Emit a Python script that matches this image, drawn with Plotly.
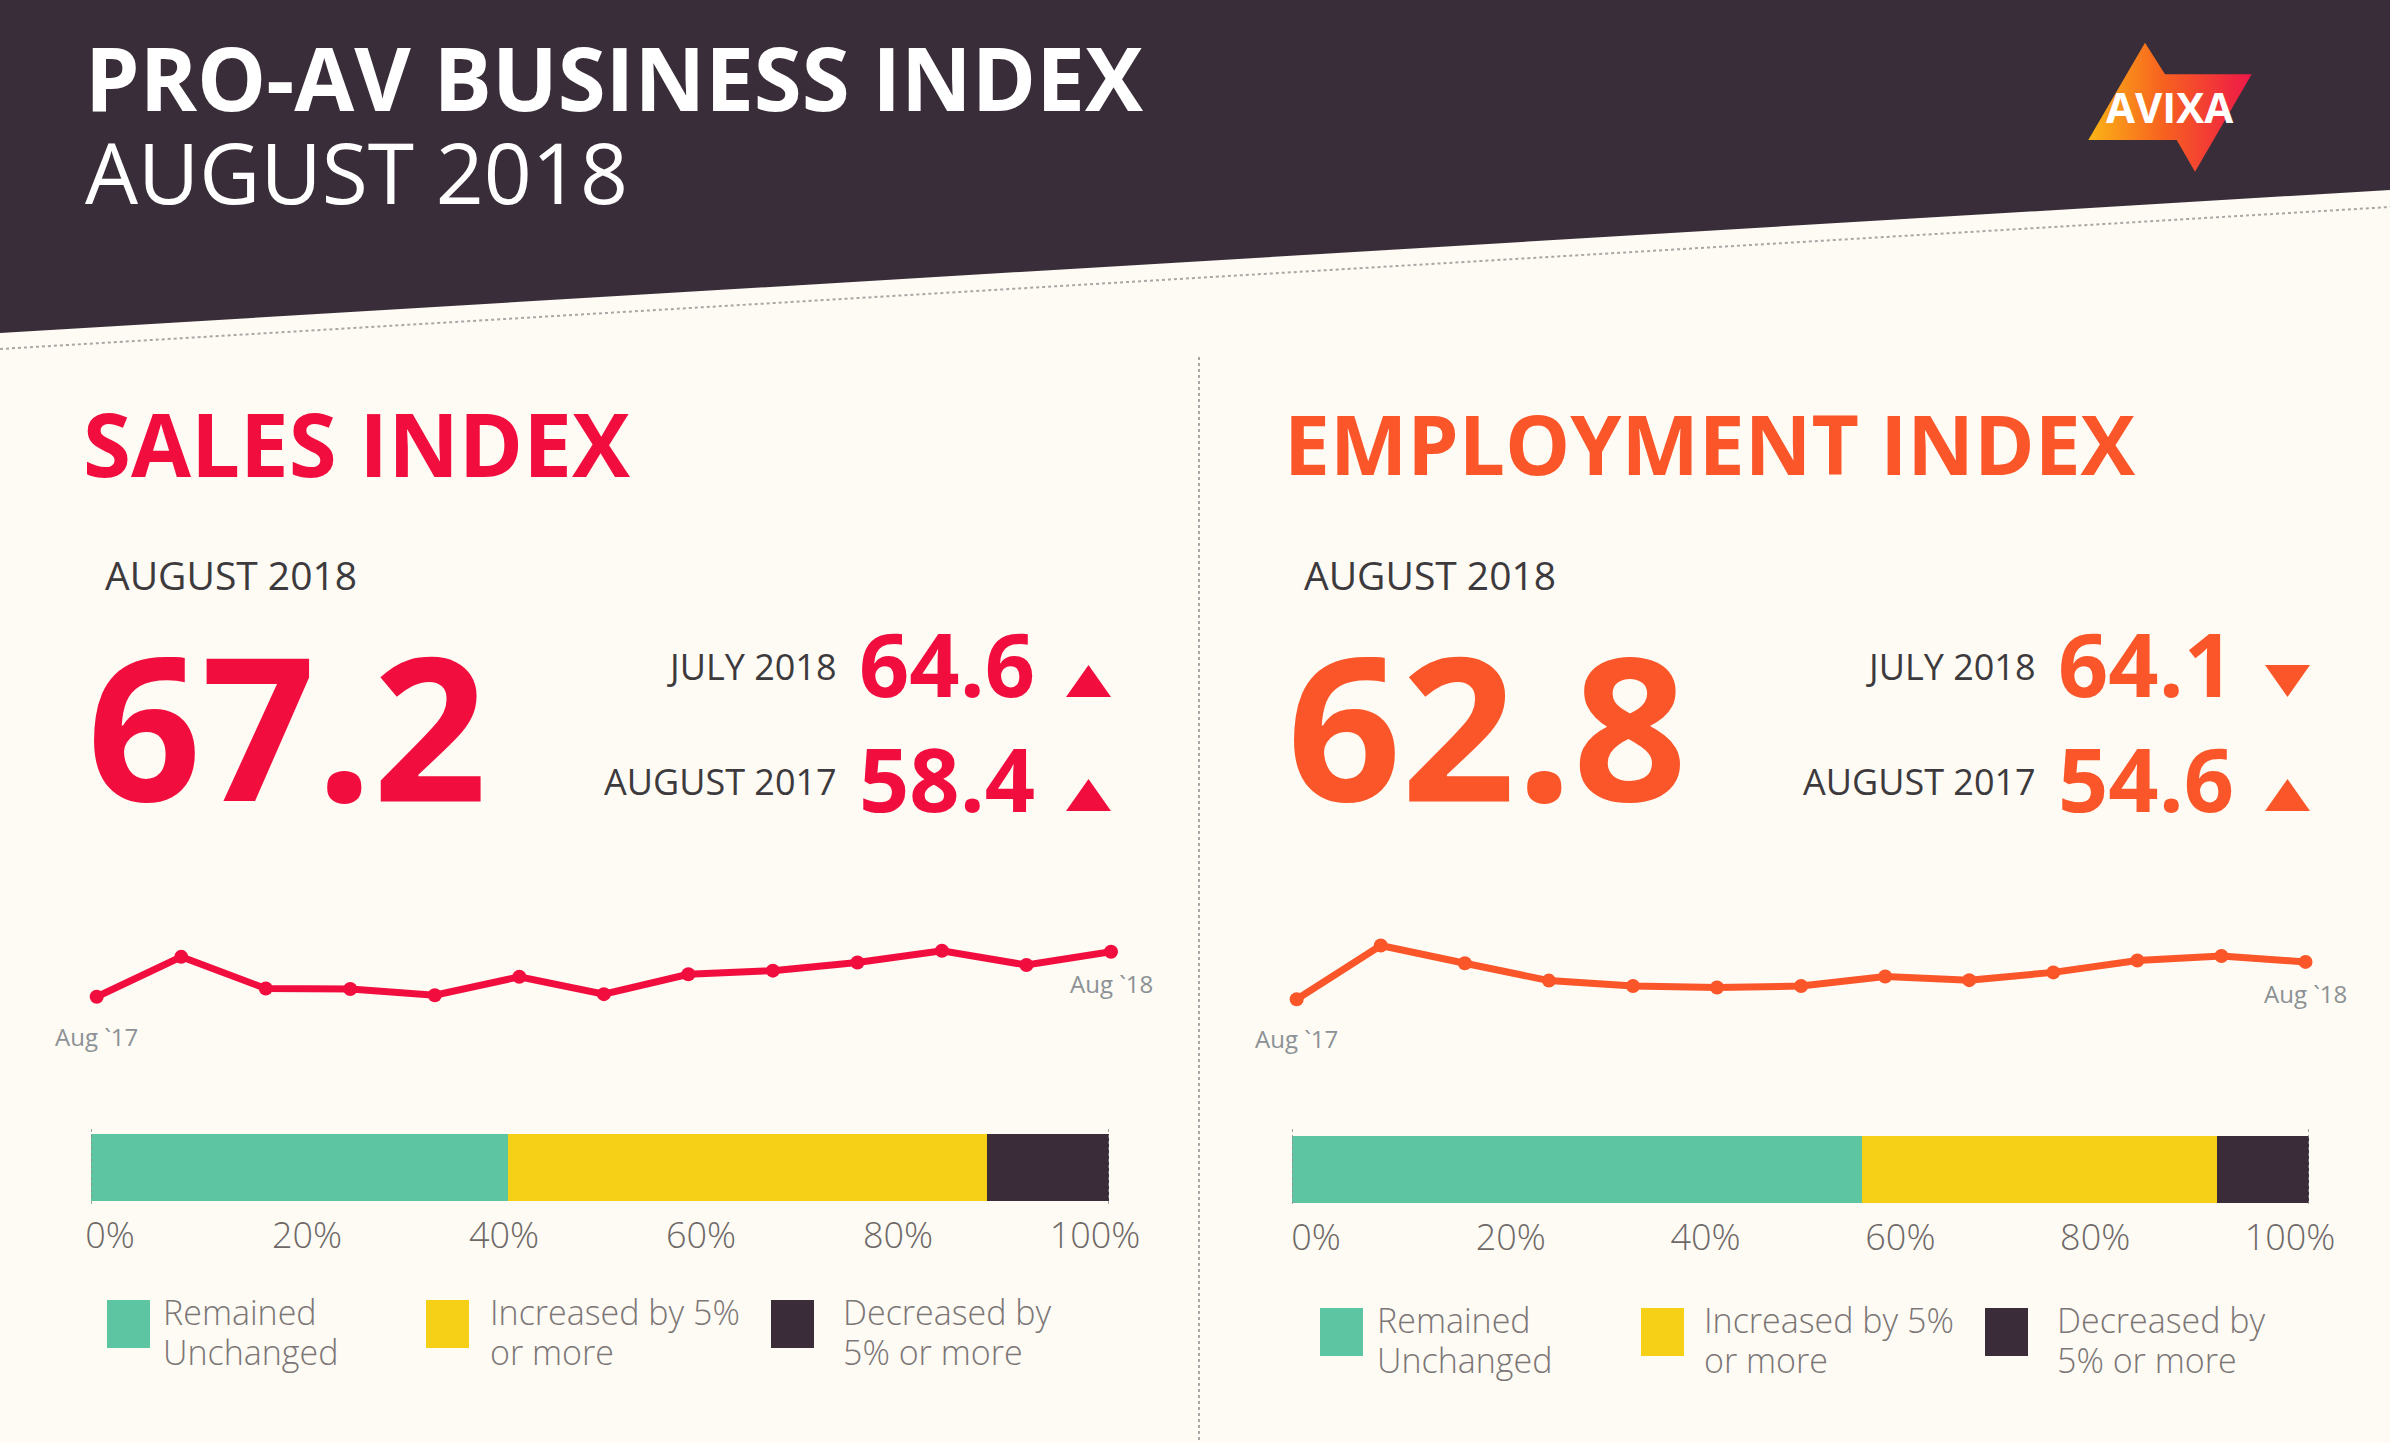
import plotly.graph_objects as go

W, H = 2390, 1443

# ---------------- data ----------------
months = ["Aug `17", "Sep", "Oct", "Nov", "Dec", "Jan", "Feb",
          "Mar", "Apr", "May", "Jun", "Jul", "Aug `18"]
sales_index = [58.4, 66.2, 60.0, 59.9, 58.7, 62.3, 58.9, 62.8, 63.5, 65.1, 67.4, 64.6, 67.2]
employment_index = [54.6, 66.4, 62.5, 58.7, 57.5, 57.2, 57.5, 59.6, 58.8, 60.5, 63.1, 64.1, 62.8]

change_categories = ["Remained<br>Unchanged", "Increased by 5%<br>or more", "Decreased by<br>5% or more"]
sales_change = [41, 47, 12]
employment_change = [56, 35, 9]
pct_ticks = [0, 20, 40, 60, 80, 100]
pct_labels = [f"{t}%" for t in pct_ticks]

# ---------------- style ----------------
BG = "#fdfbf4"
DARK = "#392d39"
RED = "#f20d3f"
ORANGE = "#fb5629"
SEG_COLORS = ["#5dc5a2", "#f6d016", "#3a2d39"]
GRAY_TXT = "#6e6867"
LEG_TXT = "#7c7676"
HEAD_FONT = "Open Sans"


def X(px):
    return px / W


def Y(py):
    return 1 - py / H


fig = go.Figure()

# line charts
fig.add_trace(go.Scatter(x=months, y=sales_index, mode="lines+markers",
                         line=dict(color=RED, width=7), marker=dict(color=RED, size=14),
                         cliponaxis=False, xaxis="x", yaxis="y", showlegend=False))
fig.add_trace(go.Scatter(x=months, y=employment_index, mode="lines+markers",
                         line=dict(color=ORANGE, width=7), marker=dict(color=ORANGE, size=14),
                         cliponaxis=False, xaxis="x2", yaxis="y2", showlegend=False))

# stacked bars
for vals, xa, ya in [(sales_change, "x3", "y3"), (employment_change, "x4", "y4")]:
    for name, v, c in zip(change_categories, vals, SEG_COLORS):
        fig.add_trace(go.Bar(x=[v], y=[0], orientation="h", name=name,
                             marker=dict(color=c, line=dict(width=0)),
                             xaxis=xa, yaxis=ya, showlegend=False))

# invisible carriers so the percentage tick-label axes get drawn
for xa, ya in [("x6", "y3"), ("x7", "y4")]:
    fig.add_trace(go.Scatter(x=[pct_ticks[0], pct_ticks[-1]], y=[0, 0], mode="markers",
                             marker=dict(size=1, opacity=0), xaxis=xa, yaxis=ya,
                             showlegend=False, hoverinfo="skip"))

# logo (gradient bolt)
logo_x = [2145, 2165, 2251.7, 2195, 2176.7, 2088.3, 2145]
logo_y = [42.7, 74.3, 74.3, 171.7, 140, 140, 42.7]
fig.add_trace(go.Scatter(x=logo_x, y=logo_y, mode="lines", fill="toself",
                         line=dict(width=0, color="rgba(0,0,0,0)"),
                         fillgradient=dict(type="horizontal",
                                           colorscale=[[0, "#fbb516"], [0.45, "#f7631f"], [1, "#ee1848"]]),
                         xaxis="x5", yaxis="y5", showlegend=False, hoverinfo="skip"))

shapes = []
annotations = []

# header band
shapes.append(dict(type="path", xref="paper", yref="paper", layer="below",
                   path=f"M {X(0)} {Y(0)} L {X(W)} {Y(0)} L {X(W)} {Y(190)} L {X(0)} {Y(333)} Z",
                   fillcolor=DARK, line=dict(width=0)))
shapes.append(dict(type="line", xref="paper", yref="paper", x0=X(0), y0=Y(349), x1=X(W), y1=Y(207),
                   line=dict(color="#a9a6a6", width=2, dash="dot")))
# divider
shapes.append(dict(type="line", xref="paper", yref="paper", x0=X(1199), y0=Y(357), x1=X(1199), y1=Y(H),
                   line=dict(color="#a9a6a6", width=2, dash="dot")))


def ann(text, x, y, size, color, weight=400, xanchor="left", yanchor="middle", family=HEAD_FONT, align="left"):
    annotations.append(dict(text=text, xref="paper", yref="paper", x=X(x), y=Y(y),
                            xanchor=xanchor, yanchor=yanchor, showarrow=False, align=align,
                            borderpad=0,
                            font=dict(family=family, size=size, color=color, weight=weight)))


# header text
ann("PRO-AV BUSINESS INDEX", 84, 77, 87, "white", 700)
ann("AUGUST 2018", 84, 172, 84, "white", 400)
ann("AVIXA", 2169, 107, 42, "white", 700, xanchor="center")


def triangle(x0, x1, y0, y1, up, color):
    xm = (x0 + x1) / 2
    if up:
        p = f"M {X(x0)} {Y(y1)} L {X(x1)} {Y(y1)} L {X(xm)} {Y(y0)} Z"
    else:
        p = f"M {X(x0)} {Y(y0)} L {X(x1)} {Y(y0)} L {X(xm)} {Y(y1)} Z"
    shapes.append(dict(type="path", xref="paper", yref="paper", path=p,
                       fillcolor=color, line=dict(width=0)))


panels = [
    dict(title="SALES INDEX", tsize=87, series=sales_index, color=RED, title_x=82,
         sub_x=104, big_x=86, lab_r=838, num_x=858, tri_x=1066, xa="x3"),
    dict(title="EMPLOYMENT INDEX", tsize=82, series=employment_index, color=ORANGE, title_x=1283,
         sub_x=1303, big_x=1286, lab_r=2037, num_x=2057, tri_x=2265, xa="x4"),
]

for p in panels:
    s = p["series"]
    c = p["color"]
    ann(p["title"], p["title_x"], 443, p["tsize"], c, 700)
    ann("AUGUST 2018", p["sub_x"], 574, 39, "#3d3a3d", 400)
    ann(f"{s[-1]:.1f}", p["big_x"], 723, 200, c, 700)
    ann("JULY 2018", p["lab_r"], 666, 36, "#3d3a3d", 400, xanchor="right")
    ann(f"{s[-2]:.1f}", p["num_x"], 663, 88, c, 700)
    ann("AUGUST 2017", p["lab_r"], 781, 36, "#3d3a3d", 400, xanchor="right")
    ann(f"{s[0]:.1f}", p["num_x"], 778, 88, c, 700)
    triangle(p["tri_x"], p["tri_x"] + 45, 665, 697, s[-1] > s[-2], c)
    triangle(p["tri_x"], p["tri_x"] + 45, 779, 811, s[-1] > s[0], c)
    # end markers of bar
    for xv in (0, 100):
        shapes.append(dict(type="line", xref=p["xa"], yref="paper", x0=xv, x1=xv,
                           y0=Y(1129), y1=Y(1207), line=dict(color="#8c8888", width=1.5, dash="dot")))

# month labels at first / last points
for xa, ya, s in [("x", "y", sales_index), ("x2", "y2", employment_index)]:
    for i, shift in ((0, -22), (len(months) - 1, -14)):
        annotations.append(dict(text=months[i], x=months[i], y=s[i], xref=xa, yref=ya,
                                showarrow=False, xanchor="center", yanchor="top", yshift=shift,
                                borderpad=0,
                                font=dict(family="Liberation Sans Narrow, Arial Narrow, Open Sans",
                                          size=24, color="#8c9195")))

# legends (manual)
leg_sets = [
    dict(sq_x=[107, 426, 771], txt_x=[162, 489, 842], top=1300),
    dict(sq_x=[1320, 1641, 1985], txt_x=[1376, 1703, 2056], top=1308),
]
for L in leg_sets:
    for name, col, sx, tx in zip(change_categories, SEG_COLORS, L["sq_x"], L["txt_x"]):
        shapes.append(dict(type="rect", xref="paper", yref="paper",
                           x0=X(sx), x1=X(sx + 43), y0=Y(L["top"] + 48), y1=Y(L["top"]),
                           fillcolor=col, line=dict(width=0)))
        for j, line_txt in enumerate(name.split("<br>")):
            annotations.append(dict(text=line_txt, xref="paper", yref="paper", x=X(tx),
                                    y=Y(L["top"] + 12 + 40 * j),
                                    xanchor="left", yanchor="middle", showarrow=False, align="left",
                                    borderpad=0,
                                    font=dict(family=HEAD_FONT, size=34, color=LEG_TXT, weight=300)))

hidden = dict(visible=False, showgrid=False, zeroline=False, fixedrange=True, automargin=False)
bar_x = dict(range=[0, 100], showgrid=False, zeroline=False, showline=False, ticks="",
             showticklabels=False, automargin=False, fixedrange=True)
tick_axis = dict(range=[0, 100], tickmode="array", tickvals=pct_ticks, ticktext=pct_labels,
                 showgrid=False, zeroline=False, showline=False, ticks="", ticklabelstandoff=10,
                 automargin=False, fixedrange=True,
                 tickfont=dict(family=HEAD_FONT, size=36, color=GRAY_TXT, weight=300))

fig.update_layout(
    width=W, height=H, margin=dict(l=0, r=0, t=0, b=0, pad=0, autoexpand=False),
    paper_bgcolor=BG, plot_bgcolor="rgba(0,0,0,0)",
    barmode="stack", bargap=0, showlegend=False,
    xaxis=dict(domain=[X(96.7), X(1111)], range=[0, 12], type="category", anchor="y", **hidden),
    yaxis=dict(domain=[Y(1010), Y(930)], range=[55.8, 71.45], anchor="x", **hidden),
    xaxis2=dict(domain=[X(1296.7), X(2305.5)], range=[0, 12], type="category", anchor="y2", **hidden),
    yaxis2=dict(domain=[Y(1010), Y(930)], range=[52.25, 69.8], anchor="x2", **hidden),
    xaxis3=dict(domain=[X(91), X(1109)], anchor="y3", **bar_x),
    yaxis3=dict(domain=[Y(1201), Y(1134)], range=[-0.5, 0.5], anchor="x3", **hidden),
    xaxis4=dict(domain=[X(1292), X(2309)], anchor="y4", **bar_x),
    yaxis4=dict(domain=[Y(1203), Y(1136)], range=[-0.5, 0.5], anchor="x4", **hidden),
    xaxis5=dict(domain=[0, 1], range=[0, W], anchor="y5", **hidden),
    yaxis5=dict(domain=[0, 1], range=[H, 0], anchor="x5", **hidden),
    xaxis6=dict(domain=[X(110), X(1095)], anchor="y3", **tick_axis),
    xaxis7=dict(domain=[X(1316), X(2290)], anchor="y4", **tick_axis),
    shapes=shapes, annotations=annotations,
)

fig.write_html("out.html", config={"displayModeBar": False},
               post_script="document.body.style.margin='0';document.body.style.overflow='hidden';")
